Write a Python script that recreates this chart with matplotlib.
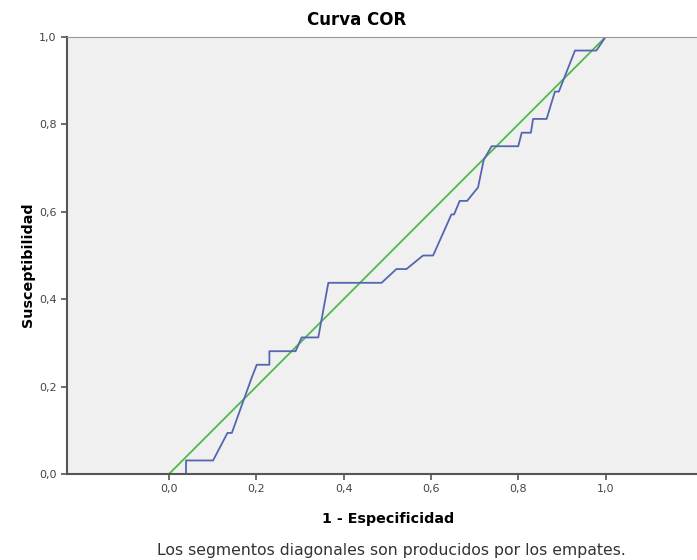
import numpy as np
import matplotlib.pyplot as plt

plt.rcParams['font.family'] = ['DejaVu Sans']

# ROC curve points (1 - specificity, sensitivity)
fpr = [0.0, 0.039, 0.039, 0.101, 0.134, 0.144, 0.189, 0.201, 0.230, 0.230,
       0.290, 0.304, 0.342, 0.365, 0.487, 0.521, 0.544, 0.582, 0.605, 0.647,
       0.653, 0.666, 0.683, 0.708, 0.721, 0.739, 0.800, 0.808, 0.829, 0.834,
       0.865, 0.884, 0.893, 0.930, 0.979, 1.0]
tpr = [0.0, 0.0, 0.031, 0.031, 0.094, 0.094, 0.219, 0.25, 0.25, 0.281,
       0.281, 0.3125, 0.3125, 0.4375, 0.4375, 0.469, 0.469, 0.5, 0.5, 0.594,
       0.594, 0.625, 0.625, 0.656, 0.719, 0.75, 0.75, 0.781, 0.781, 0.8125,
       0.8125, 0.875, 0.875, 0.969, 0.969, 1.0]
ref_line = [0.0, 1.0]

ticks = [0.0, 0.2, 0.4, 0.6, 0.8, 1.0]
tick_labels = ['0,0', '0,2', '0,4', '0,6', '0,8', '1,0']

fig = plt.figure(figsize=(6.97, 5.6), dpi=100)
ax = fig.add_axes([67 / 697, 86 / 560, 1 - 67 / 697, 437 / 560])
ax.set_facecolor('#f0f0f0')

ax.plot(ref_line, ref_line, color='#4cbb4c', lw=1.3)
ax.plot(fpr, tpr, color='#5566b0', lw=1.3)

ax.set_xlim(-0.2336, 1.2095)
ax.set_ylim(0, 1)
ax.set_xticks(ticks)
ax.set_xticklabels(tick_labels)
ax.set_yticks(ticks)
ax.set_yticklabels(tick_labels)
ax.tick_params(colors='#555555', labelcolor='#444444', labelsize=8, length=4, width=1.2, direction='out')

for side in ['left', 'bottom']:
    ax.spines[side].set_color('#555555')
    ax.spines[side].set_linewidth(1.5)
ax.spines['top'].set_color('#999999')
ax.spines['right'].set_visible(False)

fig.text(357 / 697, 1 - 20 / 560, 'Curva COR', ha='center', va='center', fontsize=12, fontweight='bold')
fig.text(388 / 697, 1 - 519 / 560, '1 - Especificidad', ha='center', va='center', fontsize=10.3, fontweight='bold')
fig.text(28 / 697, 1 - 265 / 560, 'Susceptibilidad', ha='center', va='center', rotation=90, fontsize=10.3, fontweight='bold')
fig.text(391 / 697, 1 - 551 / 560, 'Los segmentos diagonales son producidos por los empates.', ha='center', va='center', fontsize=11.3, color='#333333')

plt.savefig('out.png', dpi=100)
